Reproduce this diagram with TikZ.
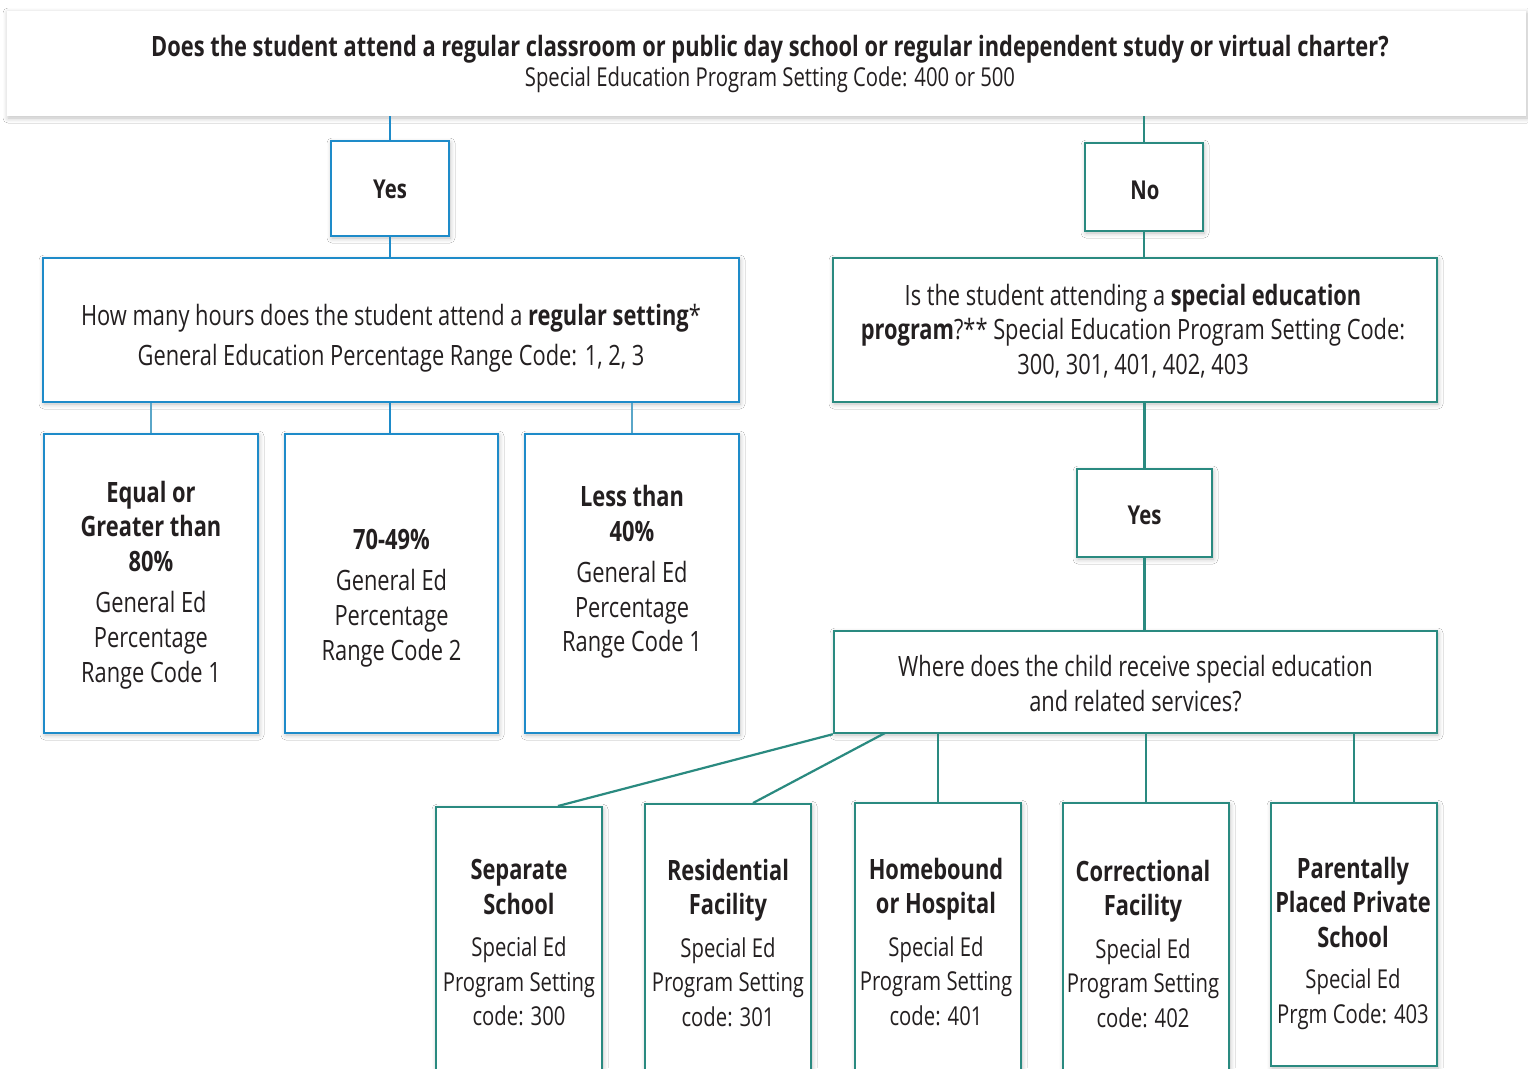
\documentclass[tikz,border=0pt]{standalone}
\usepackage{fontspec}
\setmainfont{Open Sans}[FakeStretch=0.78]
\usetikzlibrary{shadows.blur,calc}
\definecolor{bluec}{HTML}{1E8BC9}
\definecolor{bluel}{HTML}{5AA6C8}
\definecolor{tealc}{HTML}{2A8A80}
\definecolor{txt}{HTML}{231F20}
\newcommand{\fs}[2]{\fontsize{#1}{#2}\selectfont}
\newcommand{\Bd}[1]{{\fontsize{28}{34.5}\selectfont\textbf{#1}}}
\tikzset{
  shad/.style={blur shadow={shadow blur steps=6, shadow xshift=1pt, shadow yshift=-2pt, shadow opacity=25, shadow blur radius=5pt}},
  bbox/.style={draw=bluec, line width=2.4pt, fill=white, shad, inner sep=0pt},
  tbox/.style={draw=tealc, line width=2.4pt, fill=white, shad, inner sep=0pt},
  lbl/.style={inner sep=0pt, align=center, text=txt},
  bline/.style={draw=bluec, line width=2pt},
  blinel/.style={draw=bluel, line width=1.6pt},
  tline/.style={draw=tealc, line width=2.2pt},
}
\begin{document}
\begin{tikzpicture}[x=1pt,y=-1pt]
\clip (0,0) rectangle (1528,1068);
\fill[white] (0,0) rectangle (1528,1068);
% ---------- boxes ----------
\node[fill=white, shad, minimum width=1519pt, minimum height=105pt, inner sep=0pt] (top) at (766.5,63.5) {};
\node[bbox, minimum width=118pt, minimum height=95pt] (yes1) at (390,188.5) {};
\node[bbox, minimum width=696pt, minimum height=144pt] (q1) at (391,330) {};
\node[bbox, minimum width=214pt, minimum height=299pt] (b1) at (151,583.5) {};
\node[bbox, minimum width=213pt, minimum height=299pt] (b2) at (391.5,583.5) {};
\node[bbox, minimum width=214pt, minimum height=299pt] (b3) at (632,583.5) {};
\node[tbox, minimum width=118pt, minimum height=88pt] (no) at (1144,187) {};
\node[tbox, minimum width=604pt, minimum height=144pt] (q2) at (1135,330) {};
\node[tbox, minimum width=135pt, minimum height=88pt] (yes2) at (1144.5,513) {};
\node[tbox, minimum width=603pt, minimum height=102pt] (where) at (1135.5,682) {};
\node[tbox, minimum width=166pt, minimum height=274pt, anchor=north] (s1) at (519,806) {};
\node[tbox, minimum width=166pt, minimum height=278pt, anchor=north] (s2) at (728,803) {};
\node[tbox, minimum width=166pt, minimum height=280pt, anchor=north] (s3) at (938,802) {};
\node[tbox, minimum width=166pt, minimum height=282pt, anchor=north] (s4) at (1146,802) {};
\node[tbox, minimum width=166pt, minimum height=263pt, anchor=north] (s5) at (1354,802) {};
% ---------- texts ----------
\node[lbl] (topt) at (770,64)
  {{\fs{28}{33}\textbf{Does the student attend a regular classroom or public day school or regular independent study or virtual charter?}}\\[3pt]
   {\fs{26}{33}Special Education Program Setting Code: 400 or 500}};
\node[lbl, font=\fs{26}{30}] (yes1t) at (390,189) {\textbf{Yes}};
\node[lbl, font=\fs{28}{36}] (q1t) at (391,338)
  {How many hours does the student attend a \textbf{regular setting}*\\[4pt]
   General Education Percentage Range Code: 1, 2, 3};
\node[lbl, font=\fs{28}{34.7}] (b1t) at (151,585)
  {\textbf{Equal or}\\\textbf{Greater than}\\\textbf{80\%}\\[6.5pt]General Ed\\Percentage\\Range Code 1};
\node[lbl, font=\fs{28}{34.7}] (b2t) at (391.5,598)
  {\textbf{70-49\%}\\[6.5pt]General Ed\\Percentage\\Range Code 2};
\node[lbl, font=\fs{28}{34.7}] (b3t) at (632,572)
  {\textbf{Less than}\\\textbf{40\%}\\[6.5pt]General Ed\\Percentage\\Range Code 1};
\node[lbl, font=\fs{26}{30}] (not) at (1145,190) {\textbf{No}};
\node[lbl, font=\fs{28}{34.5}] (q2t) at (1133,331)
  {Is the student attending a \textbf{special education}\\
   \textbf{program}?** Special Education Program Setting Code:\\
   300, 301, 401, 402, 403};
\node[lbl, font=\fs{26}{30}] (yes2t) at (1144.5,515) {\textbf{Yes}};
\node[lbl, font=\fs{28}{35}] (wheret) at (1135.5,684)
  {Where does the child receive special education\\and related services?};
\node[lbl, font=\fs{26}{34.5}] (s1t) at (519,943)
  {\Bd{Separate}\\\Bd{School}\\[8pt]Special Ed\\Program Setting\\code: 300};
\node[lbl, font=\fs{26}{34.5}] (s2t) at (728,943)
  {\Bd{Residential}\\\Bd{Facility}\\[8pt]Special Ed\\Program Setting\\code: 301};
\node[lbl, font=\fs{26}{34.5}] (s3t) at (936,942)
  {\Bd{Homebound}\\\Bd{or Hospital}\\[8pt]Special Ed\\Program Setting\\code: 401};
\node[lbl, font=\fs{26}{34.5}] (s4t) at (1143,944)
  {\Bd{Correctional}\\\Bd{Facility}\\[8pt]Special Ed\\Program Setting\\code: 402};
\node[lbl, font=\fs{26}{34.5}] (s5t) at (1353,943)
  {\Bd{Parentally}\\\Bd{Placed Private}\\\Bd{School}\\[7pt]Special Ed\\Prgm Code: 403};
% ---------- connectors ----------
\coordinate (sepT) at (558,806);
\coordinate (resT) at (753,803);
\coordinate (whA) at (885,733);
\draw[bline] (yes1.north |- top.south) -- (yes1.north);
\draw[bline] (yes1.south) -- (yes1.south |- q1.north);
\draw[blinel] (b1.north) -- (b1.north |- q1.south);
\draw[bline] (b2.north -| yes1.south) -- (yes1.south |- q1.south);
\draw[blinel] (b3.north) -- (b3.north |- q1.south);
\draw[tline] (no.north |- top.south) -- (no.north);
\draw[tline] (no.south) -- (no.south |- q2.north);
\draw[tline] (yes2.north |- q2.south) -- (yes2.north);
\draw[tline] (yes2.south) -- (yes2.south |- where.north);
\draw[tline] (where.south west) -- (sepT);
\draw[tline] (whA) -- (resT);
\draw[tline] (s3.north |- where.south) -- (s3.north);
\draw[tline] (s4.north |- where.south) -- (s4.north);
\draw[tline] (s5.north |- where.south) -- (s5.north);
\end{tikzpicture}
\end{document}
